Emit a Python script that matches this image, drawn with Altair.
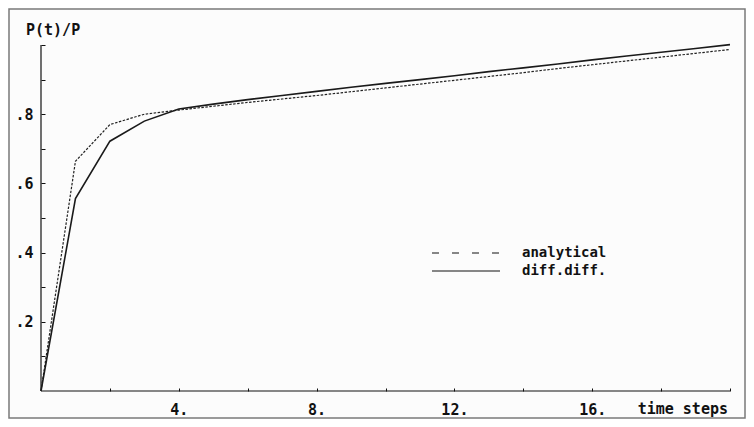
import altair as alt
import pandas as pd

# ---- data ----
steps = list(range(21))
analytical = [0.0, 0.664, 0.770, 0.800, 0.812, 0.823, 0.834, 0.844, 0.854, 0.865, 0.876,
              0.887, 0.898, 0.909, 0.920, 0.932, 0.943, 0.954, 0.965, 0.976, 0.987]
diffdiff = [0.0, 0.556, 0.722, 0.780, 0.815, 0.829, 0.842, 0.854, 0.866, 0.878, 0.889,
            0.900, 0.911, 0.923, 0.934, 0.945, 0.957, 0.968, 0.979, 0.990, 1.001]
series_names = ["analytical", "diff.diff."]
y_title = "P(t)/P"
x_title = "time steps"
x_ticks = [2, 4, 6, 8, 10, 12, 14, 16, 18, 20]
y_ticks = [0.1, 0.2, 0.3, 0.4, 0.5, 0.6, 0.7, 0.8, 0.9, 1.0]

FONT = "DejaVu Sans Mono"
FS = 15
INK = "#111111"
W, H = 689, 346
PAD = {"left": 33, "top": 37, "right": 16, "bottom": 28}

df_a = pd.DataFrame({"t": steps, "v": analytical, "s": series_names[0]})
df_d = pd.DataFrame({"t": steps, "v": diffdiff, "s": series_names[1]})

xs = alt.Scale(domain=[0, 20], nice=False, zero=False)
ys = alt.Scale(domain=[0, 1], nice=False)

x_axis = alt.Axis(values=x_ticks, title=None, grid=False, domain=False,
                  tickSize=3, offset=-3, tickColor=INK, tickWidth=1,
                  labelExpr="(datum.value % 4 == 0 && datum.value > 0 && datum.value < 20) ? datum.value + '.' : ''",
                  labelFont=FONT, labelFontSize=FS, labelFontWeight="bold",
                  labelColor=INK, labelPadding=11, labelFlush=False, labelOverlap=False)
y_axis = alt.Axis(values=y_ticks, title=None, grid=False, domain=False,
                  tickSize=4, offset=-4, tickColor=INK, tickWidth=1,
                  labelExpr="(round(datum.value * 10) % 2 == 0 && datum.value < 0.95) ? replace(format(datum.value, '.1f'), '0.', '.') : ''",
                  labelFont=FONT, labelFontSize=FS, labelFontWeight="bold",
                  labelColor=INK, labelPadding=8, labelOverlap=False, labelFlush=False)

one = alt.Data(values=[{"k": 1}])

line_a = alt.Chart(df_a).mark_line(color="#222222", strokeWidth=1.2, strokeDash=[2.5, 1.5],
                                   clip=False).encode(
    x=alt.X("t:Q", scale=xs, axis=x_axis), y=alt.Y("v:Q", scale=ys, axis=y_axis))
line_d = alt.Chart(df_d).mark_line(color="#1a1a1a", strokeWidth=1.6, clip=False).encode(
    x=alt.X("t:Q", scale=xs, axis=x_axis), y=alt.Y("v:Q", scale=ys, axis=y_axis))

# axis lines
y_line = alt.Chart(one).mark_rule(color=INK, strokeWidth=1.2).encode(
    x=alt.value(0), y=alt.value(0), y2=alt.value(H))
x_line = alt.Chart(one).mark_rule(color=INK, strokeWidth=1.2).encode(
    x=alt.value(0), x2=alt.value(W), y=alt.value(H))

# frame
frame = alt.Chart(one).mark_rect(fill=None, stroke="#7a7a7a", strokeWidth=1.5, clip=False).encode(
    x=alt.value(-PAD["left"] + 1), x2=alt.value(W + PAD["right"] - 1),
    y=alt.value(-PAD["top"] + 1), y2=alt.value(H + PAD["bottom"] - 1))

def label(txt, x, y, align="left", size=FS):
    return alt.Chart(alt.Data(values=[{"txt": txt}])).mark_text(
        font=FONT, fontSize=size, fontWeight="bold", color=INK, align=align,
        baseline="middle").encode(text="txt:N", x=alt.value(x), y=alt.value(y))

ytitle = label(y_title, -15, -15)
xtitle = label(x_title, 687, 364, align="right")

leg_a_line = alt.Chart(one).mark_rule(color=INK, strokeWidth=1.2, strokeDash=[7, 13]).encode(
    x=alt.value(391), x2=alt.value(459), y=alt.value(208))
leg_d_line = alt.Chart(one).mark_rule(color=INK, strokeWidth=1.2).encode(
    x=alt.value(391), x2=alt.value(459), y=alt.value(226))
leg_a_txt = label(series_names[0], 481, 208, size=14)
leg_d_txt = label(series_names[1], 481, 226, size=14)

chart = alt.layer(
    frame, y_line, x_line, line_a, line_d, ytitle, xtitle,
    leg_a_line, leg_d_line, leg_a_txt, leg_d_txt
).properties(
    width=W, height=H,
    padding=PAD,
    autosize=alt.AutoSizeParams(type="none"),
    background="#fcfcfc",
).configure_view(stroke=None)

chart.save("out.html", embed_options={"renderer": "svg", "actions": False})
